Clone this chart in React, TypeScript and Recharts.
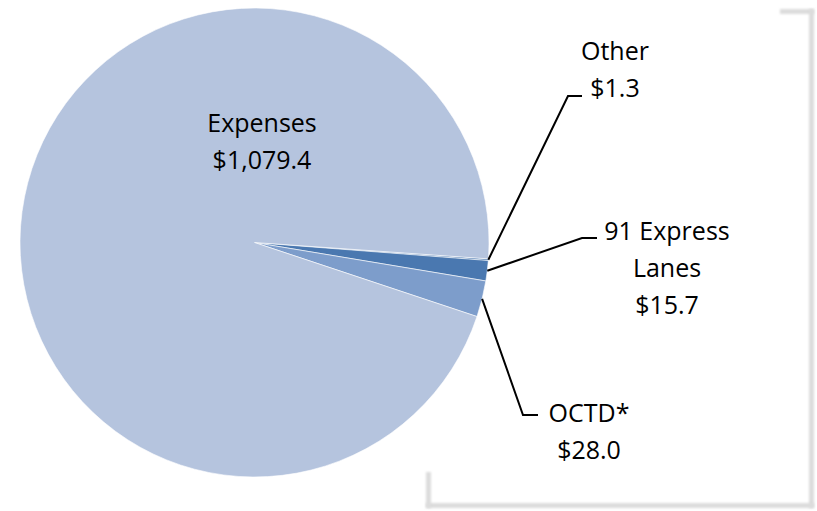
import { PieChart, Pie, Cell } from 'recharts'

const categories = ['Other', '91 Express Lanes', 'OCTD*', 'Expenses']
const values = [1.3, 15.7, 28.0, 1079.4]
const labelLines = [['Other', '$1.3'], ['91 Express', 'Lanes', '$15.7'], ['OCTD*', '$28.0'], ['Expenses', '$1,079.4']]

const colors = ['#4a78b0', '#4a78b0', '#7d9dcb', '#b5c4de']

const data = categories.map((name, i) => ({ name, value: values[i] }))

// where each label's text sits and where its leader line bends
const labelLayout = [
  { x: 615, y: 50, elbow: [568, 96], end: [582, 96] },
  { x: 667, y: 230, elbow: [582, 238], end: [597, 238] },
  { x: 589, y: 412, elbow: [523, 415], end: [538, 415] },
  { x: 262, y: 122, elbow: null, end: null },
]

const RADIAN = Math.PI / 180
const FONT = '"Open Sans", sans-serif'

function renderLabel(props: any) {
  const { cx, cy, midAngle, outerRadius, index } = props
  const lay = labelLayout[index]
  const lines = labelLines[index]
  const sx = cx + outerRadius * Math.cos(-midAngle * RADIAN)
  const sy = cy + outerRadius * Math.sin(-midAngle * RADIAN)
  return (
    <g key={`lbl-${index}`}>
      {lay.elbow && (
        <polyline
          points={`${sx},${sy} ${lay.elbow[0]},${lay.elbow[1]} ${lay.end![0]},${lay.end![1]}`}
          fill="none"
          stroke="#000"
          strokeWidth={2}
        />
      )}
      <text textAnchor="middle" fontFamily={FONT} fontSize={25} fill="#000">
        {lines.map((t, i) => (
          <tspan key={i} x={lay.x} y={lay.y + i * 37} dominantBaseline="central">
            {t}
          </tspan>
        ))}
      </text>
    </g>
  )
}

const frame = '#dcdcdc'
const seg = { position: 'absolute' as const, background: frame, filter: 'blur(1px)' }

export default function App() {
  return (
    <div style={{ position: 'absolute', left: 0, top: 0, width: 817, height: 511, background: '#fff' }}>
      <div style={{ ...seg, left: 780, top: 9, width: 34, height: 5 }} />
      <div style={{ ...seg, left: 809, top: 9, width: 5, height: 499 }} />
      <div style={{ ...seg, left: 426, top: 503, width: 388, height: 5 }} />
      <div style={{ ...seg, left: 426, top: 472, width: 5, height: 36 }} />
      <PieChart
        width={817}
        height={511}
        margin={{ top: 0, right: 0, bottom: 0, left: 0 }}
        style={{ position: 'absolute', left: 0, top: 0 }}
      >
        <Pie
          data={data}
          dataKey="value"
          nameKey="name"
          cx={254.5}
          cy={242.5}
          outerRadius={234.5}
          startAngle={-4}
          endAngle={-364}
          stroke="#ffffff"
          strokeWidth={0.6}
          label={renderLabel}
          labelLine={false}
          isAnimationActive={false}
        >
          {data.map((d, i) => (
            <Cell key={d.name} fill={colors[i]} />
          ))}
        </Pie>
      </PieChart>
    </div>
  )
}
